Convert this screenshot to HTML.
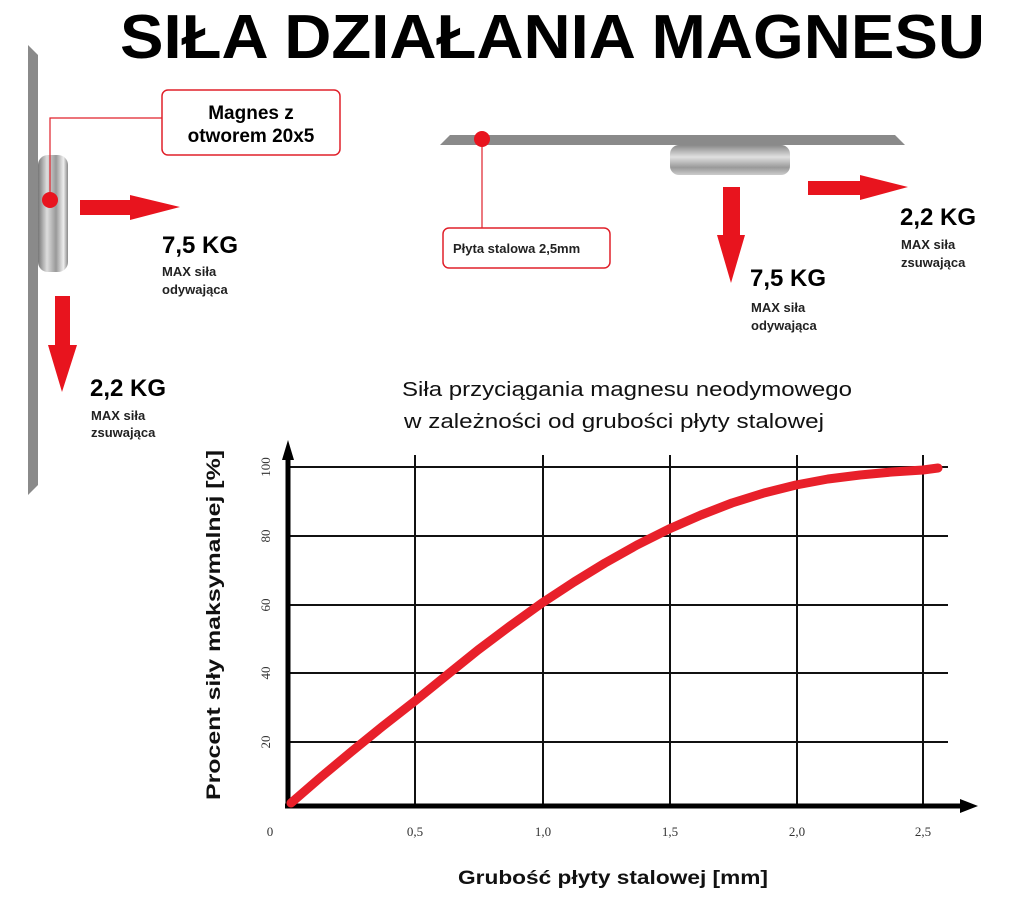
<!DOCTYPE html>
<html><head><meta charset="utf-8"><style>
html,body{margin:0;padding:0;background:#fff;}
svg{display:block;font-family:"Liberation Sans",sans-serif;}
</style></head><body>
<svg width="1030" height="919" viewBox="0 0 1030 919" xmlns="http://www.w3.org/2000/svg">
<defs>
<linearGradient id="mg" x1="0" y1="0" x2="1" y2="0">
<stop offset="0" stop-color="#777"/><stop offset="0.3" stop-color="#ddd"/><stop offset="0.6" stop-color="#999"/><stop offset="0.85" stop-color="#eee"/><stop offset="1" stop-color="#888"/></linearGradient>
<linearGradient id="mg2" x1="0" y1="0" x2="0" y2="1">
<stop offset="0" stop-color="#888"/><stop offset="0.4" stop-color="#e0e0e0"/><stop offset="0.75" stop-color="#999"/><stop offset="1" stop-color="#ccc"/></linearGradient>
</defs>
<text x="120" y="58" font-size="62" font-weight="bold" textLength="865" lengthAdjust="spacingAndGlyphs">SIŁA DZIAŁANIA MAGNESU</text>

<polygon points="28,45 38,55 38,485 28,495" fill="#8a8a8a"/>
<rect x="38" y="155" width="30" height="117" rx="10" fill="url(#mg)"/>
<polyline points="50,200 50,118 162,118" fill="none" stroke="#e0202a" stroke-width="1.2"/>
<circle cx="50" cy="200" r="8" fill="#e8141e"/>
<rect x="162" y="90" width="178" height="65" rx="6" fill="#fff" stroke="#e0202a" stroke-width="1.5"/>
<text x="251" y="119" font-size="19" font-weight="bold" text-anchor="middle">Magnes z</text>
<text x="251" y="142" font-size="19" font-weight="bold" text-anchor="middle">otworem 20x5</text>
<polygon points="80,200 130,200 130,195 180,207 130,220 130,215 80,215" fill="#e8141e"/>
<text x="162" y="253" font-size="24" font-weight="bold">7,5 KG</text>
<text x="162" y="276" font-size="13" font-weight="bold" fill="#222">MAX siła</text>
<text x="162" y="294" font-size="13" font-weight="bold" fill="#222">odywająca</text>
<polygon points="55,296 70,296 70,345 77,345 62,392 48,345 55,345" fill="#e8141e"/>
<text x="90" y="396" font-size="24" font-weight="bold">2,2 KG</text>
<text x="91" y="420" font-size="13" font-weight="bold" fill="#222">MAX siła</text>
<text x="91" y="437" font-size="13" font-weight="bold" fill="#222">zsuwająca</text>

<polygon points="450,135 895,135 905,145 440,145" fill="#8a8a8a"/>
<rect x="670" y="145" width="120" height="30" rx="9" fill="url(#mg2)"/>
<line x1="482" y1="139" x2="482" y2="228" stroke="#e0202a" stroke-width="1.2"/>
<circle cx="482" cy="139" r="8" fill="#e8141e"/>
<rect x="443" y="228" width="167" height="40" rx="6" fill="#fff" stroke="#e0202a" stroke-width="1.5"/>
<text x="453" y="253" font-size="13" font-weight="bold" fill="#222">Płyta stalowa 2,5mm</text>
<polygon points="723,187 740,187 740,235 745,235 731,283 717,235 723,235" fill="#e8141e"/>
<text x="750" y="286" font-size="24" font-weight="bold">7,5 KG</text>
<text x="751" y="312" font-size="13" font-weight="bold" fill="#222">MAX siła</text>
<text x="751" y="330" font-size="13" font-weight="bold" fill="#222">odywająca</text>
<polygon points="808,181 860,181 860,175 908,187 860,200 860,195 808,195" fill="#e8141e"/>
<text x="900" y="225" font-size="24" font-weight="bold">2,2 KG</text>
<text x="901" y="249" font-size="13" font-weight="bold" fill="#222">MAX siła</text>
<text x="901" y="267" font-size="13" font-weight="bold" fill="#222">zsuwająca</text>

<text x="627" y="396" font-size="20" text-anchor="middle" fill="#111" textLength="450" lengthAdjust="spacingAndGlyphs">Siła przyciągania magnesu neodymowego</text>
<text x="614" y="428" font-size="20" text-anchor="middle" fill="#111" textLength="420" lengthAdjust="spacingAndGlyphs">w zależności od grubości płyty stalowej</text>
<g stroke="#111" stroke-width="2">
<line x1="288" y1="467" x2="948" y2="467"/>
<line x1="288" y1="536" x2="948" y2="536"/>
<line x1="288" y1="605" x2="948" y2="605"/>
<line x1="288" y1="673" x2="948" y2="673"/>
<line x1="288" y1="742" x2="948" y2="742"/>
<line x1="415" y1="455" x2="415" y2="806"/>
<line x1="543" y1="455" x2="543" y2="806"/>
<line x1="670" y1="455" x2="670" y2="806"/>
<line x1="797" y1="455" x2="797" y2="806"/>
<line x1="923" y1="455" x2="923" y2="806"/>
</g>
<line x1="288" y1="455" x2="288" y2="808" stroke="#000" stroke-width="5"/>
<polygon points="282,460 288,440 294,460" fill="#000"/>
<line x1="285" y1="806" x2="965" y2="806" stroke="#000" stroke-width="5"/>
<polygon points="960,799 978,806 960,813" fill="#000"/>
<polyline points="291,803 321,777 351,752 383,726 415,701 447,675 478,650 510,626 542,603 574,582 605,563 637,545 669,529 701,515 732,503 764,493 796,485 828,479 860,475 892,472 923,470 938,468" fill="none" stroke="#e8202a" stroke-width="9" stroke-linecap="round" stroke-linejoin="round"/>
<g font-family="Liberation Serif,serif" font-size="13" fill="#333" text-anchor="middle">
<text x="270" y="836">0</text>
<text x="415" y="836">0,5</text>
<text x="543" y="836">1,0</text>
<text x="670" y="836">1,5</text>
<text x="797" y="836">2,0</text>
<text x="923" y="836">2,5</text>
<text transform="translate(270,467) rotate(-90)">100</text>
<text transform="translate(270,536) rotate(-90)">80</text>
<text transform="translate(270,605) rotate(-90)">60</text>
<text transform="translate(270,673) rotate(-90)">40</text>
<text transform="translate(270,742) rotate(-90)">20</text>
</g>
<text transform="translate(220,625) rotate(-90)" font-size="19" font-weight="bold" text-anchor="middle" fill="#111" textLength="350" lengthAdjust="spacingAndGlyphs">Procent siły maksymalnej [%]</text>
<text x="613" y="884" font-size="19" font-weight="bold" text-anchor="middle" fill="#111" textLength="310" lengthAdjust="spacingAndGlyphs">Grubość płyty stalowej [mm]</text>
</svg>
</body></html>
